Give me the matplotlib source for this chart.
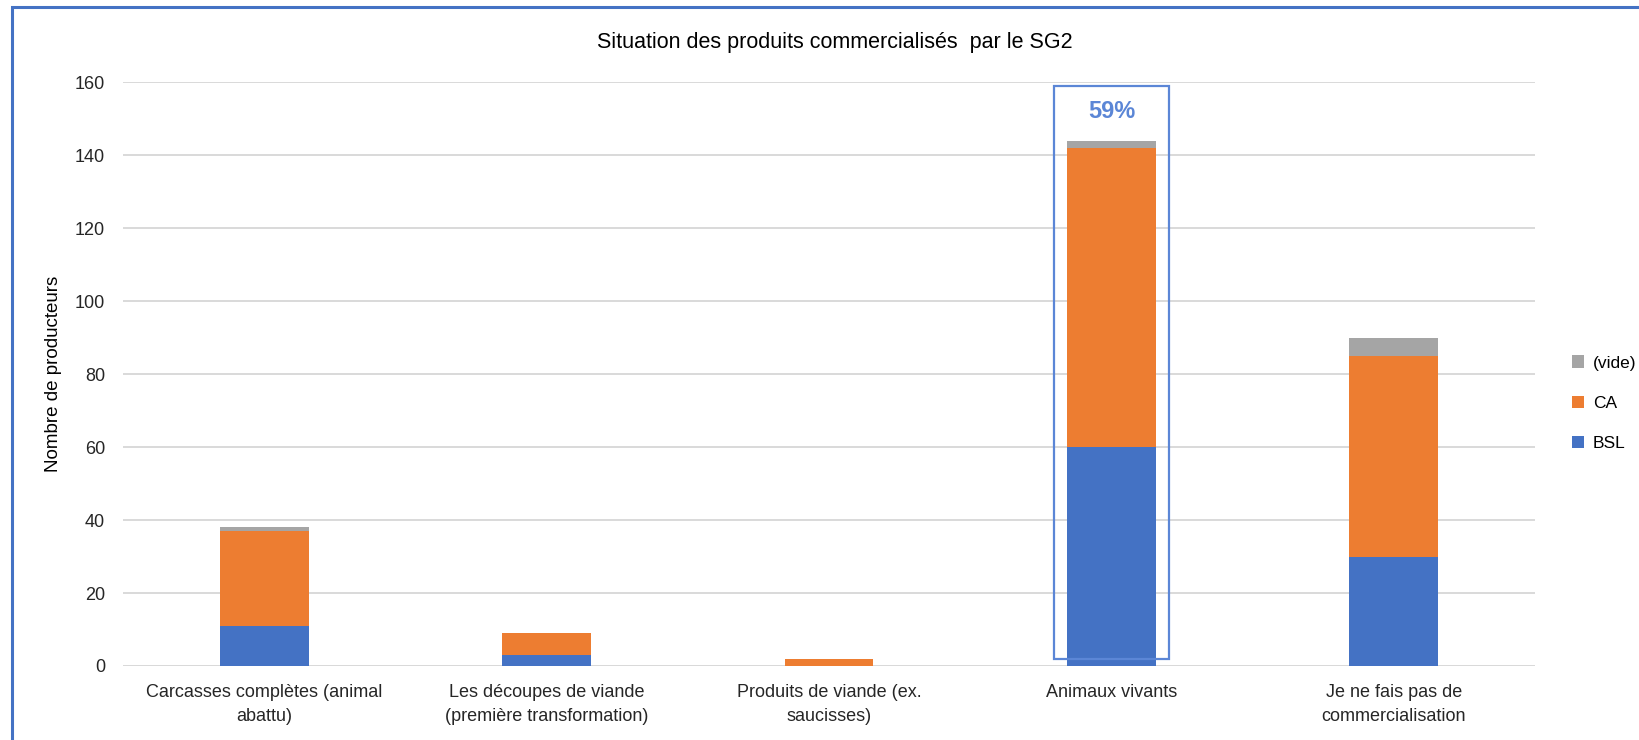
import matplotlib
matplotlib.use('Agg')
import matplotlib.pyplot as plt
import numpy as np
from matplotlib.patches import Rectangle

plt.rcParams['font.family'] = ['Liberation Sans', 'DejaVu Sans']

categories = ["Carcasses complètes (animal\nabattu)",
              "Les découpes de viande\n(première transformation)",
              "Produits de viande (ex.\nsaucisses)",
              "Animaux vivants",
              "Je ne fais pas de\ncommercialisation"]
bsl  = [11, 3, 0, 60, 30]
ca   = [26, 6, 2, 82, 55]
vide = [1, 0, 0, 2, 5]

highlight_idx = 3
highlight_txt = "59%"

BLUE   = "#4472C4"
ORANGE = "#ED7D31"
GREY   = "#A5A5A5"

fig = plt.figure(figsize=(16.4, 7.4), dpi=100)
ax = fig.add_axes([0.075, 0.10, 0.861, 0.789])

x = np.arange(len(categories))
w = 0.315
ax.bar(x, bsl, w, color=BLUE, label="BSL", zorder=3)
ax.bar(x, ca, w, bottom=bsl, color=ORANGE, label="CA", zorder=3)
bottom2 = np.array(bsl) + np.array(ca)
ax.bar(x, vide, w, bottom=bottom2, color=GREY, label="(vide)", zorder=3)

ax.set_xlim(-0.5, len(categories) - 0.5)
ax.set_ylim(0, 160)
ax.set_yticks(range(0, 161, 20))
ax.yaxis.grid(True, color="#d9d9d9", linewidth=1.4, zorder=0)
for s in ax.spines.values():
    s.set_visible(False)
ax.axhline(0, color="#d9d9d9", linewidth=1.4, zorder=2)
ax.tick_params(axis='both', length=0, colors="#262626")
ax.tick_params(axis='y', labelsize=13, pad=13)
ax.tick_params(axis='x', labelsize=13, pad=13)
ax.set_xticks(x)
ax.set_xticklabels(categories, linespacing=1.5)
ax.set_ylabel("Nombre de producteurs", fontsize=13.5, color="#000000", labelpad=9)

# highlight box on "Animaux vivants"
ax.add_patch(Rectangle((highlight_idx - 0.205, 1.9), 0.41, 157.0, fill=False,
                       edgecolor="#5B86D6", linewidth=1.6, zorder=4))
ax.text(highlight_idx, 152, highlight_txt, ha='center', va='center',
        fontsize=17, fontweight='bold', color="#5B86D6", zorder=5)

fig.text(0.509, 0.943, "Situation des produits commercialisés  par le SG2",
         ha='center', va='center', fontsize=15.5, color="#000000")

h, l = ax.get_legend_handles_labels()
leg = fig.legend(h[::-1], l[::-1], loc='center left', bbox_to_anchor=(0.949, 0.455),
                 frameon=False, fontsize=12.5, handlelength=0.7, handleheight=0.7,
                 labelspacing=1.45, handletextpad=0.5)

# outer blue frame
fig.patches.append(Rectangle((12 / 1640, -0.1), 1.2, (740 - 7) / 740 + 0.1,
                             transform=fig.transFigure, fill=False,
                             edgecolor=BLUE, linewidth=2.2, zorder=10))

fig.savefig("out.png", dpi=100, facecolor="white")
